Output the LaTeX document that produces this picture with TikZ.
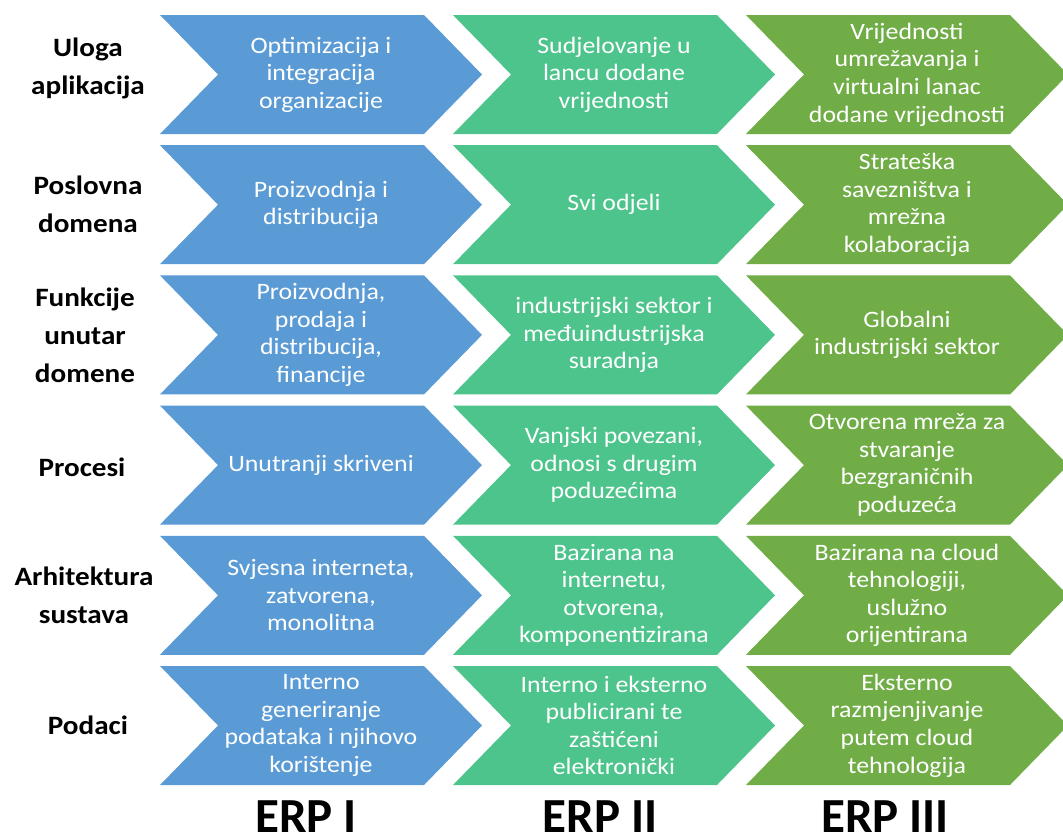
\documentclass[tikz,border=0pt]{standalone}
\usepackage{fontspec}
\setmainfont{Carlito}[FakeStretch=1.1]
\newfontfamily\erpfont{Carlito}
\definecolor{cblue}{RGB}{91,155,213}
\definecolor{cgreenA}{RGB}{78,196,141}
\definecolor{cgreenB}{RGB}{112,173,71}
\newcommand{\chevbox}[5]{% name, left x, top y, colour, text
  \fill[#4] (#2,#3) -- ++(264,0) -- ++(58,59.5) -- ++(-58,59.5) -- ++(-264,0) -- ++(58,-59.5) -- cycle;
  \node[chtext] (#1) at (#2+161,#3+59.5) {#5};
}
\tikzset{
  chtext/.style={text=white, align=center, inner sep=0pt, font=\fontsize{23.5}{27.6}\selectfont},
  rowlabel/.style={text=black, align=center, inner sep=0pt, font=\fontsize{26.5}{38}\selectfont\bfseries},
  erplabel/.style={text=black, anchor=base, inner sep=0pt, font=\erpfont\fontsize{49}{50}\selectfont\bfseries}
}
\begin{document}
\begin{tikzpicture}[x=1pt,y=-1pt]
\useasboundingbox (0,0) rectangle (1063,835);
% row 1
\chevbox{a1}{160}{15}{cblue}{Optimizacija i\\integracija\\organizacije}
\chevbox{b1}{453}{15}{cgreenA}{Sudjelovanje u\\lancu dodane\\vrijednosti}
\chevbox{c1}{746}{15}{cgreenB}{Vrijednosti\\umrežavanja i\\virtualni lanac\\dodane vrijednosti}
% row 2
\chevbox{a2}{160}{145.2}{cblue}{Proizvodnja i\\distribucija}
\chevbox{b2}{453}{145.2}{cgreenA}{Svi odjeli}
\chevbox{c2}{746}{145.2}{cgreenB}{Strateška\\savezništva i\\mrežna\\kolaboracija}
% row 3
\chevbox{a3}{160}{275.4}{cblue}{Proizvodnja,\\prodaja i\\distribucija,\\financije}
\chevbox{b3}{453}{275.4}{cgreenA}{industrijski sektor i\\međuindustrijska\\suradnja}
\chevbox{c3}{746}{275.4}{cgreenB}{Globalni\\industrijski sektor}
% row 4
\chevbox{a4}{160}{405.6}{cblue}{Unutranji skriveni}
\chevbox{b4}{453}{405.6}{cgreenA}{Vanjski povezani,\\odnosi s drugim\\poduzećima}
\chevbox{c4}{746}{405.6}{cgreenB}{Otvorena mreža za\\stvaranje\\bezgraničnih\\poduzeća}
% row 5
\chevbox{a5}{160}{535.8}{cblue}{Svjesna interneta,\\zatvorena,\\monolitna}
\chevbox{b5}{453}{535.8}{cgreenA}{Bazirana na\\internetu,\\otvorena,\\komponentizirana}
\chevbox{c5}{746}{535.8}{cgreenB}{Bazirana na cloud\\tehnologiji,\\uslužno\\orijentirana}
% row 6
\chevbox{a6}{160}{666}{cblue}{Interno\\generiranje\\podataka i njihovo\\korištenje}
\chevbox{b6}{453}{666}{cgreenA}{Interno i eksterno\\publicirani te\\zaštićeni\\elektronički}
\chevbox{c6}{746}{666}{cgreenB}{Eksterno\\razmjenjivanje\\putem cloud\\tehnologija}
% row labels
\node[rowlabel] (l1) at (88,68) {Uloga\\aplikacija};
\node[rowlabel] (l2) at (88,204.7) {Poslovna\\domena};
\node[rowlabel] (l3) at (85,334.9) {Funkcije\\unutar\\domene};
\node[rowlabel] (l4) at (82,467) {Procesi};
\node[rowlabel] (l5) at (84,595.3) {Arhitektura\\sustava};
\node[rowlabel] (l6) at (88,725.5) {Podaci};
% ERP labels
\node[erplabel] (e1) at (306,832) {ERP I};
\node[erplabel] (e2) at (600,832) {ERP II};
\node[erplabel] (e3) at (885,832) {ERP III};
\end{tikzpicture}
\end{document}
